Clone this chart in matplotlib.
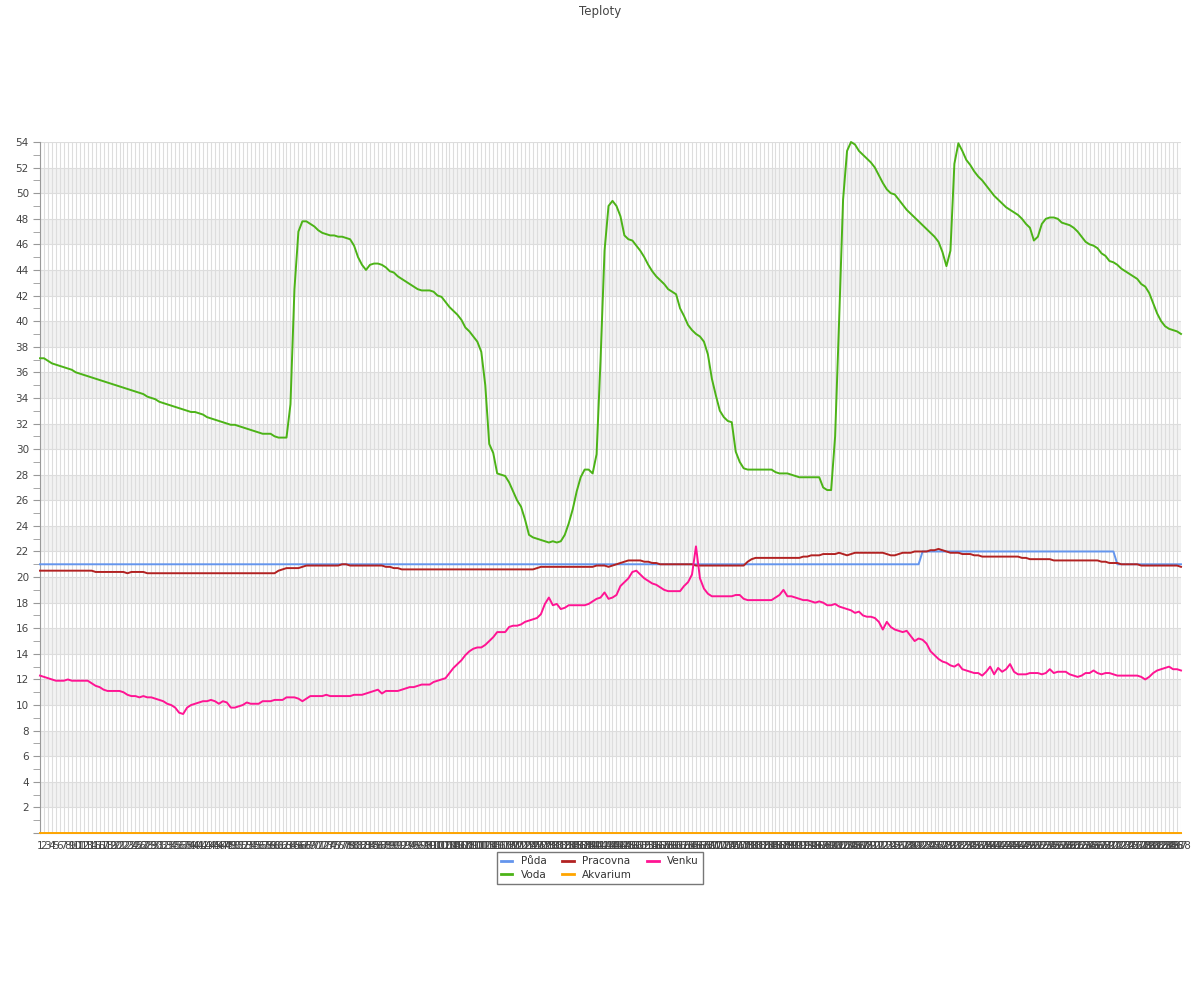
import matplotlib
matplotlib.use("Agg")
import matplotlib.pyplot as plt
from matplotlib.ticker import MultipleLocator

labels = [str(i) for i in range(1, 289)]

puda = [
    21.0, 21.0, 21.0, 21.0, 21.0, 21.0, 21.0, 21.0, 21.0, 21.0, 21.0, 21.0,
    21.0, 21.0, 21.0, 21.0, 21.0, 21.0, 21.0, 21.0, 21.0, 21.0, 21.0, 21.0,
    21.0, 21.0, 21.0, 21.0, 21.0, 21.0, 21.0, 21.0, 21.0, 21.0, 21.0, 21.0,
    21.0, 21.0, 21.0, 21.0, 21.0, 21.0, 21.0, 21.0, 21.0, 21.0, 21.0, 21.0,
    21.0, 21.0, 21.0, 21.0, 21.0, 21.0, 21.0, 21.0, 21.0, 21.0, 21.0, 21.0,
    21.0, 21.0, 21.0, 21.0, 21.0, 21.0, 21.0, 21.0, 21.0, 21.0, 21.0, 21.0,
    21.0, 21.0, 21.0, 21.0, 21.0, 21.0, 21.0, 21.0, 21.0, 21.0, 21.0, 21.0,
    21.0, 21.0, 21.0, 21.0, 21.0, 21.0, 21.0, 21.0, 21.0, 21.0, 21.0, 21.0,
    21.0, 21.0, 21.0, 21.0, 21.0, 21.0, 21.0, 21.0, 21.0, 21.0, 21.0, 21.0,
    21.0, 21.0, 21.0, 21.0, 21.0, 21.0, 21.0, 21.0, 21.0, 21.0, 21.0, 21.0,
    21.0, 21.0, 21.0, 21.0, 21.0, 21.0, 21.0, 21.0, 21.0, 21.0, 21.0, 21.0,
    21.0, 21.0, 21.0, 21.0, 21.0, 21.0, 21.0, 21.0, 21.0, 21.0, 21.0, 21.0,
    21.0, 21.0, 21.0, 21.0, 21.0, 21.0, 21.0, 21.0, 21.0, 21.0, 21.0, 21.0,
    21.0, 21.0, 21.0, 21.0, 21.0, 21.0, 21.0, 21.0, 21.0, 21.0, 21.0, 21.0,
    21.0, 21.0, 21.0, 21.0, 21.0, 21.0, 21.0, 21.0, 21.0, 21.0, 21.0, 21.0,
    21.0, 21.0, 21.0, 21.0, 21.0, 21.0, 21.0, 21.0, 21.0, 21.0, 21.0, 21.0,
    21.0, 21.0, 21.0, 21.0, 21.0, 21.0, 21.0, 21.0, 21.0, 21.0, 21.0, 21.0,
    21.0, 21.0, 21.0, 21.0, 21.0, 21.0, 21.0, 21.0, 21.0, 21.0, 21.0, 21.0,
    21.0, 21.0, 21.0, 21.0, 21.0, 21.0, 22.0, 22.0, 22.0, 22.0, 22.0, 22.0,
    22.0, 22.0, 22.0, 22.0, 22.0, 22.0, 22.0, 22.0, 22.0, 22.0, 22.0, 22.0,
    22.0, 22.0, 22.0, 22.0, 22.0, 22.0, 22.0, 22.0, 22.0, 22.0, 22.0, 22.0,
    22.0, 22.0, 22.0, 22.0, 22.0, 22.0, 22.0, 22.0, 22.0, 22.0, 22.0, 22.0,
    22.0, 22.0, 22.0, 22.0, 22.0, 22.0, 22.0, 21.0, 21.0, 21.0, 21.0, 21.0,
    21.0, 21.0, 21.0, 21.0, 21.0, 21.0, 21.0, 21.0, 21.0, 21.0, 21.0, 21.0,
]

voda = [
    37.1, 37.1, 36.9, 36.7, 36.6, 36.5, 36.4, 36.3, 36.2, 36.0, 35.9, 35.8,
    35.7, 35.6, 35.5, 35.4, 35.3, 35.2, 35.1, 35.0, 34.9, 34.8, 34.7, 34.6,
    34.5, 34.4, 34.3, 34.1, 34.0, 33.9, 33.7, 33.6, 33.5, 33.4, 33.3, 33.2,
    33.1, 33.0, 32.9, 32.9, 32.8, 32.7, 32.5, 32.4, 32.3, 32.2, 32.1, 32.0,
    31.9, 31.9, 31.8, 31.7, 31.6, 31.5, 31.4, 31.3, 31.2, 31.2, 31.2, 31.0,
    30.9, 30.9, 30.9, 33.5, 42.5, 47.0, 47.8, 47.8, 47.6, 47.4, 47.1, 46.9,
    46.8, 46.7, 46.7, 46.6, 46.6, 46.5, 46.4, 45.9, 45.0, 44.4, 44.0, 44.4,
    44.5, 44.5, 44.4, 44.2, 43.9, 43.8, 43.5, 43.3, 43.1, 42.9, 42.7, 42.5,
    42.4, 42.4, 42.4, 42.3, 42.0, 41.9, 41.5, 41.1, 40.8, 40.5, 40.1, 39.5,
    39.2, 38.8, 38.4, 37.6, 35.0, 30.4, 29.7, 28.1, 28.0, 27.9, 27.4, 26.7,
    26.0, 25.5, 24.5, 23.3, 23.1, 23.0, 22.9, 22.8, 22.7, 22.8, 22.7, 22.8,
    23.3, 24.2, 25.3, 26.7, 27.8, 28.4, 28.4, 28.1, 29.6, 37.0, 45.5, 49.0,
    49.4, 49.0, 48.2, 46.7, 46.4, 46.3, 45.9, 45.5, 45.0, 44.4, 43.9, 43.5,
    43.2, 42.9, 42.5, 42.3, 42.1, 41.0, 40.4, 39.7, 39.3, 39.0, 38.8, 38.4,
    37.4, 35.5, 34.2, 33.0, 32.5, 32.2, 32.1, 29.8, 29.0, 28.5, 28.4, 28.4,
    28.4, 28.4, 28.4, 28.4, 28.4, 28.2, 28.1, 28.1, 28.1, 28.0, 27.9, 27.8,
    27.8, 27.8, 27.8, 27.8, 27.8, 27.0, 26.8, 26.8, 31.0, 40.0, 49.5, 53.3,
    54.0, 53.8, 53.3, 53.0, 52.7, 52.4, 52.0, 51.4, 50.8, 50.3, 50.0, 49.9,
    49.5, 49.1, 48.7, 48.4, 48.1, 47.8, 47.5, 47.2, 46.9, 46.6, 46.2, 45.4,
    44.3, 45.5, 52.3, 53.9, 53.3, 52.6, 52.2, 51.7, 51.3, 51.0, 50.6, 50.2,
    49.8, 49.5, 49.2, 48.9, 48.7, 48.5, 48.3, 48.0, 47.6, 47.3, 46.3, 46.6,
    47.6, 48.0, 48.1, 48.1, 48.0, 47.7, 47.6, 47.5, 47.3, 47.0, 46.6, 46.2,
    46.0, 45.9, 45.7, 45.3, 45.1, 44.7, 44.6, 44.4, 44.1, 43.9, 43.7, 43.5,
    43.3, 42.9, 42.7, 42.2, 41.4, 40.6, 40.0, 39.6, 39.4, 39.3, 39.2, 39.0,
]

pracovna = [
    20.5, 20.5, 20.5, 20.5, 20.5, 20.5, 20.5, 20.5, 20.5, 20.5, 20.5, 20.5,
    20.5, 20.5, 20.4, 20.4, 20.4, 20.4, 20.4, 20.4, 20.4, 20.4, 20.3, 20.4,
    20.4, 20.4, 20.4, 20.3, 20.3, 20.3, 20.3, 20.3, 20.3, 20.3, 20.3, 20.3,
    20.3, 20.3, 20.3, 20.3, 20.3, 20.3, 20.3, 20.3, 20.3, 20.3, 20.3, 20.3,
    20.3, 20.3, 20.3, 20.3, 20.3, 20.3, 20.3, 20.3, 20.3, 20.3, 20.3, 20.3,
    20.5, 20.6, 20.7, 20.7, 20.7, 20.7, 20.8, 20.9, 20.9, 20.9, 20.9, 20.9,
    20.9, 20.9, 20.9, 20.9, 21.0, 21.0, 20.9, 20.9, 20.9, 20.9, 20.9, 20.9,
    20.9, 20.9, 20.9, 20.8, 20.8, 20.7, 20.7, 20.6, 20.6, 20.6, 20.6, 20.6,
    20.6, 20.6, 20.6, 20.6, 20.6, 20.6, 20.6, 20.6, 20.6, 20.6, 20.6, 20.6,
    20.6, 20.6, 20.6, 20.6, 20.6, 20.6, 20.6, 20.6, 20.6, 20.6, 20.6, 20.6,
    20.6, 20.6, 20.6, 20.6, 20.6, 20.7, 20.8, 20.8, 20.8, 20.8, 20.8, 20.8,
    20.8, 20.8, 20.8, 20.8, 20.8, 20.8, 20.8, 20.8, 20.9, 20.9, 20.9, 20.8,
    20.9, 21.0, 21.1, 21.2, 21.3, 21.3, 21.3, 21.3, 21.2, 21.2, 21.1, 21.1,
    21.0, 21.0, 21.0, 21.0, 21.0, 21.0, 21.0, 21.0, 21.0, 20.9, 20.9, 20.9,
    20.9, 20.9, 20.9, 20.9, 20.9, 20.9, 20.9, 20.9, 20.9, 20.9, 21.2, 21.4,
    21.5, 21.5, 21.5, 21.5, 21.5, 21.5, 21.5, 21.5, 21.5, 21.5, 21.5, 21.5,
    21.6, 21.6, 21.7, 21.7, 21.7, 21.8, 21.8, 21.8, 21.8, 21.9, 21.8, 21.7,
    21.8, 21.9, 21.9, 21.9, 21.9, 21.9, 21.9, 21.9, 21.9, 21.8, 21.7, 21.7,
    21.8, 21.9, 21.9, 21.9, 22.0, 22.0, 22.0, 22.0, 22.1, 22.1, 22.2, 22.1,
    22.0, 21.9, 21.9, 21.9, 21.8, 21.8, 21.8, 21.7, 21.7, 21.6, 21.6, 21.6,
    21.6, 21.6, 21.6, 21.6, 21.6, 21.6, 21.6, 21.5, 21.5, 21.4, 21.4, 21.4,
    21.4, 21.4, 21.4, 21.3, 21.3, 21.3, 21.3, 21.3, 21.3, 21.3, 21.3, 21.3,
    21.3, 21.3, 21.3, 21.2, 21.2, 21.1, 21.1, 21.1, 21.0, 21.0, 21.0, 21.0,
    21.0, 20.9, 20.9, 20.9, 20.9, 20.9, 20.9, 20.9, 20.9, 20.9, 20.9, 20.8,
]

akvarium = [
    0, 0, 0, 0, 0, 0, 0, 0, 0, 0, 0, 0, 0, 0, 0, 0, 0, 0, 0, 0, 0, 0, 0, 0,
    0, 0, 0, 0, 0, 0, 0, 0, 0, 0, 0, 0, 0, 0, 0, 0, 0, 0, 0, 0, 0, 0, 0, 0,
    0, 0, 0, 0, 0, 0, 0, 0, 0, 0, 0, 0, 0, 0, 0, 0, 0, 0, 0, 0, 0, 0, 0, 0,
    0, 0, 0, 0, 0, 0, 0, 0, 0, 0, 0, 0, 0, 0, 0, 0, 0, 0, 0, 0, 0, 0, 0, 0,
    0, 0, 0, 0, 0, 0, 0, 0, 0, 0, 0, 0, 0, 0, 0, 0, 0, 0, 0, 0, 0, 0, 0, 0,
    0, 0, 0, 0, 0, 0, 0, 0, 0, 0, 0, 0, 0, 0, 0, 0, 0, 0, 0, 0, 0, 0, 0, 0,
    0, 0, 0, 0, 0, 0, 0, 0, 0, 0, 0, 0, 0, 0, 0, 0, 0, 0, 0, 0, 0, 0, 0, 0,
    0, 0, 0, 0, 0, 0, 0, 0, 0, 0, 0, 0, 0, 0, 0, 0, 0, 0, 0, 0, 0, 0, 0, 0,
    0, 0, 0, 0, 0, 0, 0, 0, 0, 0, 0, 0, 0, 0, 0, 0, 0, 0, 0, 0, 0, 0, 0, 0,
    0, 0, 0, 0, 0, 0, 0, 0, 0, 0, 0, 0, 0, 0, 0, 0, 0, 0, 0, 0, 0, 0, 0, 0,
    0, 0, 0, 0, 0, 0, 0, 0, 0, 0, 0, 0, 0, 0, 0, 0, 0, 0, 0, 0, 0, 0, 0, 0,
    0, 0, 0, 0, 0, 0, 0, 0, 0, 0, 0, 0, 0, 0, 0, 0, 0, 0, 0, 0, 0, 0, 0, 0,
]

venku = [
    12.3, 12.2, 12.1, 12.0, 11.9, 11.9, 11.9, 12.0, 11.9, 11.9, 11.9, 11.9,
    11.9, 11.7, 11.5, 11.4, 11.2, 11.1, 11.1, 11.1, 11.1, 11.0, 10.8, 10.7,
    10.7, 10.6, 10.7, 10.6, 10.6, 10.5, 10.4, 10.3, 10.1, 10.0, 9.8, 9.4,
    9.3, 9.8, 10.0, 10.1, 10.2, 10.3, 10.3, 10.4, 10.3, 10.1, 10.3, 10.2,
    9.8, 9.8, 9.9, 10.0, 10.2, 10.1, 10.1, 10.1, 10.3, 10.3, 10.3, 10.4,
    10.4, 10.4, 10.6, 10.6, 10.6, 10.5, 10.3, 10.5, 10.7, 10.7, 10.7, 10.7,
    10.8, 10.7, 10.7, 10.7, 10.7, 10.7, 10.7, 10.8, 10.8, 10.8, 10.9, 11.0,
    11.1, 11.2, 10.9, 11.1, 11.1, 11.1, 11.1, 11.2, 11.3, 11.4, 11.4, 11.5,
    11.6, 11.6, 11.6, 11.8, 11.9, 12.0, 12.1, 12.5, 12.9, 13.2, 13.5, 13.9,
    14.2, 14.4, 14.5, 14.5, 14.7, 15.0, 15.3, 15.7, 15.7, 15.7, 16.1, 16.2,
    16.2, 16.3, 16.5, 16.6, 16.7, 16.8, 17.1, 17.9, 18.4, 17.8, 17.9, 17.5,
    17.6, 17.8, 17.8, 17.8, 17.8, 17.8, 17.9, 18.1, 18.3, 18.4, 18.8, 18.3,
    18.4, 18.6, 19.3, 19.6, 19.9, 20.4, 20.5, 20.2, 19.9, 19.7, 19.5, 19.4,
    19.2, 19.0, 18.9, 18.9, 18.9, 18.9, 19.3, 19.6, 20.2, 22.4, 19.9, 19.1,
    18.7, 18.5, 18.5, 18.5, 18.5, 18.5, 18.5, 18.6, 18.6, 18.3, 18.2, 18.2,
    18.2, 18.2, 18.2, 18.2, 18.2, 18.4, 18.6, 19.0, 18.5, 18.5, 18.4, 18.3,
    18.2, 18.2, 18.1, 18.0, 18.1, 18.0, 17.8, 17.8, 17.9, 17.7, 17.6, 17.5,
    17.4, 17.2, 17.3, 17.0, 16.9, 16.9, 16.8, 16.5, 15.9, 16.5, 16.1, 15.9,
    15.8, 15.7, 15.8, 15.4, 15.0, 15.2, 15.1, 14.8, 14.2, 13.9, 13.6, 13.4,
    13.3, 13.1, 13.0, 13.2, 12.8, 12.7, 12.6, 12.5, 12.5, 12.3, 12.6, 13.0,
    12.4, 12.9, 12.6, 12.8, 13.2, 12.6, 12.4, 12.4, 12.4, 12.5, 12.5, 12.5,
    12.4, 12.5, 12.8, 12.5, 12.6, 12.6, 12.6, 12.4, 12.3, 12.2, 12.3, 12.5,
    12.5, 12.7, 12.5, 12.4, 12.5, 12.5, 12.4, 12.3, 12.3, 12.3, 12.3, 12.3,
    12.3, 12.2, 12.0, 12.2, 12.5, 12.7, 12.8, 12.9, 13.0, 12.8, 12.8, 12.7,
]

series_names = ["Půda", "Voda", "Pracovna", "Akvarium", "Venku"]
series_values = [puda, voda, pracovna, akvarium, venku]
series_colors = ["#6495ed", "#4cb317", "#b22222", "#ffa500", "#ff1493"]

plt.rcParams["font.family"] = ["DejaVu Sans"]

fig = plt.figure(figsize=(12, 10), dpi=100)
ax = fig.add_axes([40 / 1200, 1 - 833 / 1000, (1181 - 40) / 1200, (833 - 142) / 1000])

x = list(range(len(labels)))

# alternating bands
for lo in range(2, 54, 4):
    ax.axhspan(lo, lo + 2, color="#f2f2f2", zorder=0, lw=0)

ax.set_xlim(0, len(labels) - 1)
ax.set_ylim(0, 54)
ax.set_xticks(x)
ax.set_xticklabels(labels, fontsize=7.5, color="#444444")
ax.tick_params(axis="x", length=0, pad=6)

ax.yaxis.set_major_locator(MultipleLocator(2))
ax.yaxis.set_minor_locator(MultipleLocator(1))
ax.tick_params(axis="y", which="both", length=5, color="#999999", labelsize=7.5,
               labelcolor="#444444", pad=3)
ax.set_yticklabels(["" if v == 0 else f"{int(v)}" for v in ax.get_yticks()])

ax.grid(True, which="major", color="#dddddd", lw=0.8, zorder=1)
ax.set_axisbelow(True)

for s in ["top", "right"]:
    ax.spines[s].set_visible(False)
ax.spines["left"].set_color("#999999")
ax.spines["bottom"].set_color("#999999")

handles = []
for name, vals, col in zip(series_names, series_values, series_colors):
    h, = ax.plot(x, vals, color=col, lw=1.4, label=name, clip_on=False, zorder=3)
    handles.append(h)

leg = fig.legend(handles, series_names, loc="center",
                 bbox_to_anchor=(600 / 1200, 1 - 868 / 1000), ncol=3,
                 fontsize=7.5, frameon=True, fancybox=False, framealpha=1,
                 edgecolor="#777777", handlelength=1.1, columnspacing=1.5,
                 handletextpad=0.8, borderpad=0.4, labelspacing=0.3)
leg.get_frame().set_linewidth(1.0)
for t in leg.get_texts():
    t.set_color("#333333")
for lh in leg.get_lines():
    lh.set_linewidth(2)

fig.text(0.5, 1 - 11 / 1000, "Teploty", ha="center", va="center",
         fontsize=8.5, color="#444444")

fig.savefig("out.png", dpi=100)
